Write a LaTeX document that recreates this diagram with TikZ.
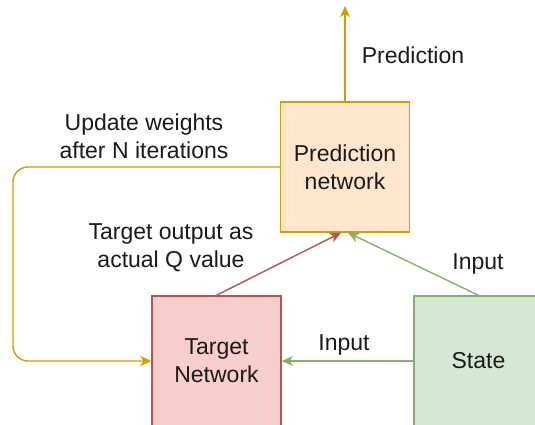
\documentclass[tikz,border=0pt]{standalone}
\usepackage{fontspec}
\setmainfont{Liberation Sans}
\usetikzlibrary{arrows.meta}
\definecolor{orfill}{HTML}{FFE6CC}
\definecolor{ordraw}{HTML}{D79B00}
\definecolor{rdfill}{HTML}{F8CECC}
\definecolor{rddraw}{HTML}{B85450}
\definecolor{grfill}{HTML}{D5E8D4}
\definecolor{grdraw}{HTML}{82B366}
\definecolor{txt}{HTML}{1A1A1A}
\tikzset{
  box/.style={draw, line width=1.4pt, minimum width=129pt, minimum height=130pt, inner sep=0pt, align=center, text=txt},
  lbl/.style={align=center, inner sep=0pt, text=txt},
  conn/.style={line width=1.4pt, -{Stealth[length=11pt,width=10pt,inset=3pt]}},
}
\begin{document}
\begin{tikzpicture}[x=1pt,y=-1pt,font=\fontsize{23}{28}\selectfont]
\useasboundingbox (0,0) rectangle (535,424);
\clip (0,0) rectangle (535,424);
\node[box, fill=orfill, draw=ordraw] (pred) at (345,167) {Prediction\\network};
\node[box, fill=rdfill, draw=rddraw] (tgt) at (216.5,361) {Target\\Network};
\node[box, fill=grfill, draw=grdraw] (state) at (478.5,361) {State};
\coordinate (top) at (345,6);
\coordinate (c1) at (13,167);
\coordinate (c2) at (13,361);
\draw[conn, draw=ordraw] (pred.north) -- (top);
\draw[conn, draw=ordraw, rounded corners=15pt] (pred.west) -- (c1) -- (c2) -- (tgt.west);
\draw[conn, draw=rddraw] (tgt.north) -- ([xshift=-4pt]pred.south);
\draw[conn, draw=grdraw] (state.north) -- ([xshift=3pt]pred.south);
\draw[conn, draw=grdraw] (state.west) -- (tgt.east);
\node[lbl] (lpred) at (413,55) {Prediction};
\node[lbl] (lupd) at (144,136) {Update weights\\after N iterations};
\node[lbl] (ltgt) at (171,248) {Target output as\\actual Q value};
\node[lbl] (lin1) at (478,264) {Input};
\node[lbl] (lin2) at (344,345) {Input};
\end{tikzpicture}
\end{document}
